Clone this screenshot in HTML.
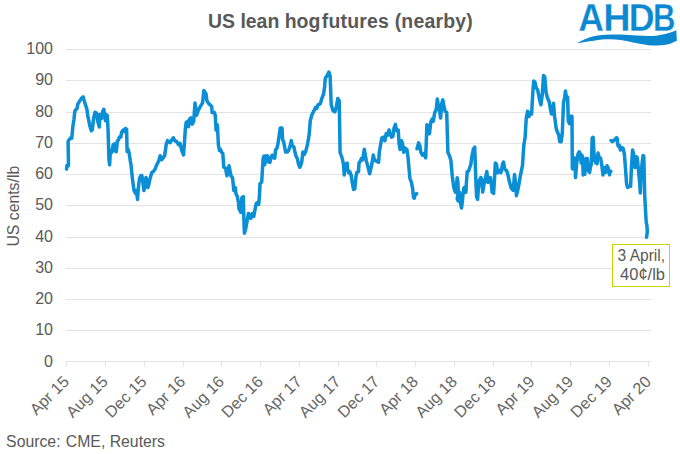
<!DOCTYPE html>
<html><head><meta charset="utf-8"><style>
html,body{margin:0;padding:0;background:#fff;width:680px;height:454px;overflow:hidden}
svg{display:block}
text{font-family:"Liberation Sans",sans-serif;fill:#595959}
.xl text{fill:#666}
</style></head><body>
<svg width="680" height="454" viewBox="0 0 680 454">
<rect width="680" height="454" fill="#fff"/>
<g font-weight="bold" font-size="19.45"><text x="208" y="28">US lean hog</text><text x="321.8" y="28" letter-spacing="0.2">futures (nearby)</text></g>
<g fill="#0b88d0" font-weight="bold" font-size="37.9">
<text transform="translate(578.3,31) scale(0.94,1)" style="fill:#0b88d0;stroke:#fff;stroke-width:0.3px">A</text>
<text transform="translate(603.3,31) scale(1.0,1)" style="fill:#0b88d0;stroke:#fff;stroke-width:0.3px">H</text>
<text transform="translate(628.8,31) scale(0.945,1)" style="fill:#0b88d0;stroke:#fff;stroke-width:0.3px">D</text>
<text transform="translate(653,31) scale(0.82,1)" style="fill:#0b88d0;stroke:#fff;stroke-width:0.3px">B</text>
<path d="M576.50,43.30 C578.75,42.28 585.08,38.62 590.00,37.20 C594.92,35.78 600.83,35.25 606.00,34.80 C611.17,34.35 615.83,34.38 621.00,34.50 C626.17,34.62 631.83,35.25 637.00,35.50 C642.17,35.75 647.33,36.25 652.00,36.00 C656.67,35.75 661.83,34.62 665.00,34.00 C668.17,33.38 669.12,32.92 671.00,32.30 C672.88,31.68 675.42,30.63 676.30,30.30 L676.90,40.70 C675.25,41.33 671.15,43.70 667.00,44.50 C662.85,45.30 657.00,45.70 652.00,45.50 C647.00,45.30 642.17,44.22 637.00,43.30 C631.83,42.38 626.17,40.67 621.00,40.00 C615.83,39.33 611.17,39.08 606.00,39.30 C600.83,39.52 594.92,40.63 590.00,41.30 C585.08,41.97 578.75,42.97 576.50,43.30 Z"/>
</g>
<line x1="66" y1="330.5" x2="651" y2="330.5" stroke="#e3e3e3" stroke-width="1"/><line x1="66" y1="299.5" x2="651" y2="299.5" stroke="#e3e3e3" stroke-width="1"/><line x1="66" y1="268.5" x2="651" y2="268.5" stroke="#e3e3e3" stroke-width="1"/><line x1="66" y1="237.5" x2="651" y2="237.5" stroke="#e3e3e3" stroke-width="1"/><line x1="66" y1="205.5" x2="651" y2="205.5" stroke="#e3e3e3" stroke-width="1"/><line x1="66" y1="174.5" x2="651" y2="174.5" stroke="#e3e3e3" stroke-width="1"/><line x1="66" y1="143.5" x2="651" y2="143.5" stroke="#e3e3e3" stroke-width="1"/><line x1="66" y1="112.5" x2="651" y2="112.5" stroke="#e3e3e3" stroke-width="1"/><line x1="66" y1="80.5" x2="651" y2="80.5" stroke="#e3e3e3" stroke-width="1"/><line x1="66" y1="49.5" x2="651" y2="49.5" stroke="#e3e3e3" stroke-width="1"/>
<line x1="66" y1="361.5" x2="651" y2="361.5" stroke="#e3e3e3" stroke-width="1"/>
<line x1="66.5" y1="361" x2="66.5" y2="367" stroke="#e3e3e3" stroke-width="1"/><line x1="105.5" y1="361" x2="105.5" y2="367" stroke="#e3e3e3" stroke-width="1"/><line x1="144.5" y1="361" x2="144.5" y2="367" stroke="#e3e3e3" stroke-width="1"/><line x1="183.5" y1="361" x2="183.5" y2="367" stroke="#e3e3e3" stroke-width="1"/><line x1="221.5" y1="361" x2="221.5" y2="367" stroke="#e3e3e3" stroke-width="1"/><line x1="260.5" y1="361" x2="260.5" y2="367" stroke="#e3e3e3" stroke-width="1"/><line x1="299.5" y1="361" x2="299.5" y2="367" stroke="#e3e3e3" stroke-width="1"/><line x1="338.5" y1="361" x2="338.5" y2="367" stroke="#e3e3e3" stroke-width="1"/><line x1="376.5" y1="361" x2="376.5" y2="367" stroke="#e3e3e3" stroke-width="1"/><line x1="415.5" y1="361" x2="415.5" y2="367" stroke="#e3e3e3" stroke-width="1"/><line x1="454.5" y1="361" x2="454.5" y2="367" stroke="#e3e3e3" stroke-width="1"/><line x1="493.5" y1="361" x2="493.5" y2="367" stroke="#e3e3e3" stroke-width="1"/><line x1="531.5" y1="361" x2="531.5" y2="367" stroke="#e3e3e3" stroke-width="1"/><line x1="570.5" y1="361" x2="570.5" y2="367" stroke="#e3e3e3" stroke-width="1"/><line x1="609.5" y1="361" x2="609.5" y2="367" stroke="#e3e3e3" stroke-width="1"/><line x1="648.5" y1="361" x2="648.5" y2="367" stroke="#e3e3e3" stroke-width="1"/>
<g font-size="16"><text x="53" y="366.9" text-anchor="end">0</text><text x="53" y="335.1" text-anchor="end">10</text><text x="53" y="304.1" text-anchor="end">20</text><text x="53" y="273.1" text-anchor="end">30</text><text x="53" y="242.1" text-anchor="end">40</text><text x="53" y="210.1" text-anchor="end">50</text><text x="53" y="179.1" text-anchor="end">60</text><text x="53" y="148.1" text-anchor="end">70</text><text x="53" y="117.1" text-anchor="end">80</text><text x="53" y="85.1" text-anchor="end">90</text><text x="53" y="54.1" text-anchor="end">100</text></g>
<text transform="translate(18.6,206.2)rotate(-90)" text-anchor="middle" font-size="15.8">US cents/lb</text>
<g font-size="16.1" class="xl"><text transform="translate(62.0,374.6)rotate(-45)" text-anchor="end" dy="0.7em">Apr 15</text><text transform="translate(100.8,374.6)rotate(-45)" text-anchor="end" dy="0.7em">Aug 15</text><text transform="translate(139.6,374.6)rotate(-45)" text-anchor="end" dy="0.7em">Dec 15</text><text transform="translate(178.4,374.6)rotate(-45)" text-anchor="end" dy="0.7em">Apr 16</text><text transform="translate(217.2,374.6)rotate(-45)" text-anchor="end" dy="0.7em">Aug 16</text><text transform="translate(256.0,374.6)rotate(-45)" text-anchor="end" dy="0.7em">Dec 16</text><text transform="translate(294.8,374.6)rotate(-45)" text-anchor="end" dy="0.7em">Apr 17</text><text transform="translate(333.6,374.6)rotate(-45)" text-anchor="end" dy="0.7em">Aug 17</text><text transform="translate(372.4,374.6)rotate(-45)" text-anchor="end" dy="0.7em">Dec 17</text><text transform="translate(411.2,374.6)rotate(-45)" text-anchor="end" dy="0.7em">Apr 18</text><text transform="translate(450.0,374.6)rotate(-45)" text-anchor="end" dy="0.7em">Aug 18</text><text transform="translate(488.8,374.6)rotate(-45)" text-anchor="end" dy="0.7em">Dec 18</text><text transform="translate(527.6,374.6)rotate(-45)" text-anchor="end" dy="0.7em">Apr 19</text><text transform="translate(566.4,374.6)rotate(-45)" text-anchor="end" dy="0.7em">Aug 19</text><text transform="translate(605.2,374.6)rotate(-45)" text-anchor="end" dy="0.7em">Dec 19</text><text transform="translate(644.0,374.6)rotate(-45)" text-anchor="end" dy="0.7em">Apr 20</text></g>
<g fill="none" stroke="#0a8fd6" stroke-width="3.5" stroke-linejoin="round" stroke-linecap="round">
<path d="M66.6,169.0 L67.0,165.2 L68.5,165.7 L68.1,141.5 L69.0,139.9 L70.7,137.7 L71.8,138.2 L72.3,132.7 L72.9,126.1 L73.9,119.8 L74.9,110.8 L76.9,108.8 L77.9,103.9 L79.8,100.9 L81.8,97.9 L83.2,96.9 L84.8,102.9 L86.8,108.8 L87.8,115.8 L89.8,125.7 L91.3,130.7 L92.3,129.7 L93.7,117.8 L95.0,112.3 L96.5,113.1 L97.8,121.6 L99.3,127.0 L99.9,114.6 L101.5,118.5 L102.7,111.6 L103.8,109.3 L104.6,115.4 L105.5,120.8 L106.1,114.6 L107.3,115.4 L108.1,130.8 L108.9,158.6 L109.6,164.8 L110.4,150.9 L111.7,152.4 L113.2,144.7 L114.3,143.9 L115.0,150.9 L116.3,151.6 L117.4,140.9 L118.4,140.1 L119.4,137.0 L120.9,137.0 L121.5,132.4 L123.1,130.1 L124.3,131.6 L125.5,128.5 L126.6,129.3 L127.1,151.6 L128.1,149.3 L129.2,153.2 L130.3,161.0 L131.0,164.7 L132.4,178.6 L134.0,190.5 L135.6,193.5 L136.5,190.5 L137.5,199.4 L138.3,188.5 L139.5,178.6 L140.9,175.6 L141.9,175.6 L142.9,182.5 L143.9,190.5 L144.9,186.5 L145.9,177.6 L146.9,180.6 L147.9,187.5 L148.8,184.5 L149.8,179.6 L151.8,172.6 L153.4,171.6 L154.8,169.6 L156.8,164.7 L158.8,160.7 L160.2,155.8 L161.7,159.7 L163.3,157.7 L164.7,155.5 L166.3,144.0 L167.5,140.5 L170.0,142.7 L171.9,139.8 L173.3,137.8 L174.9,140.8 L176.9,141.7 L178.5,144.7 L180.0,143.4 L181.8,150.5 L183.5,154.9 L184.4,143.4 L185.3,129.3 L186.2,122.3 L187.4,121.4 L188.5,126.7 L189.7,118.8 L190.9,117.9 L192.3,124.1 L193.7,121.4 L195.0,102.9 L195.9,110.0 L196.7,115.2 L198.0,110.8 L199.4,108.2 L200.8,105.6 L202.6,102.9 L203.8,90.6 L205.0,92.3 L206.1,94.1 L206.8,100.3 L208.2,102.9 L210.0,104.7 L211.7,106.4 L212.1,112.6 L214.4,112.6 L215.2,115.2 L216.1,130.2 L217.4,124.9 L218.4,145.2 L219.6,150.5 L220.4,149.4 L221.8,152.4 L222.8,153.4 L223.8,167.3 L225.8,168.3 L226.0,170.8 L227.0,175.8 L228.0,172.8 L229.0,165.8 L230.0,170.8 L231.0,175.8 L232.5,177.7 L233.3,184.7 L233.9,190.6 L235.3,187.7 L235.9,193.6 L237.3,196.6 L238.5,202.5 L238.9,208.5 L239.9,210.5 L240.9,212.5 L241.9,197.6 L243.3,196.6 L243.8,216.4 L244.4,233.3 L245.8,228.3 L247.2,220.4 L248.4,213.5 L249.8,214.4 L250.8,218.4 L252.4,213.5 L253.8,216.4 L255.2,208.5 L256.3,203.5 L257.7,202.5 L258.7,204.5 L259.5,194.3 L260.0,183.8 L261.7,182.0 L262.6,167.0 L263.0,160.0 L263.8,156.4 L264.7,164.8 L265.6,155.8 L266.6,161.8 L267.5,155.8 L268.7,161.8 L269.9,162.4 L271.1,157.0 L272.3,155.2 L273.5,157.6 L274.7,158.2 L275.6,149.7 L276.8,148.5 L277.8,144.8 L279.0,137.0 L280.2,127.9 L282.0,127.9 L282.6,139.4 L283.8,142.4 L284.8,147.9 L285.6,152.1 L287.5,152.1 L288.7,150.3 L290.1,146.1 L291.3,140.6 L292.3,146.1 L293.8,146.7 L294.7,150.9 L295.9,155.8 L297.4,158.8 L298.4,163.6 L299.8,167.3 L300.3,166.6 L301.8,161.8 L302.8,152.1 L304.2,154.5 L305.9,150.9 L307.6,143.6 L309.1,135.1 L310.3,120.6 L312.0,114.5 L313.9,110.9 L315.6,107.2 L316.8,108.5 L318.0,104.8 L320.4,103.6 L321.7,98.8 L323.6,93.9 L324.6,86.7 L325.3,78.2 L327.0,75.8 L328.9,72.1 L330.1,75.8 L331.2,104.5 L332.9,110.6 L334.8,111.8 L336.1,108.2 L337.8,98.5 L339.2,100.9 L340.1,152.5 L342.3,158.5 L343.6,165.1 L344.2,175.0 L345.6,164.4 L347.2,163.1 L347.5,168.4 L348.9,173.0 L349.8,171.7 L351.1,175.0 L352.2,182.3 L353.5,189.5 L354.8,188.9 L355.9,177.0 L356.8,172.4 L358.5,171.7 L359.0,163.1 L360.4,161.1 L361.4,158.5 L362.7,159.8 L364.3,149.2 L365.4,155.9 L366.4,161.1 L367.8,166.4 L369.6,173.7 L370.7,169.4 L371.9,163.7 L373.3,155.1 L374.3,159.4 L375.7,160.8 L377.2,161.6 L378.6,162.3 L379.3,152.2 L380.5,145.1 L381.9,137.9 L383.3,137.2 L384.8,140.8 L386.2,133.6 L387.6,135.1 L389.1,130.0 L390.1,133.6 L391.5,137.2 L392.9,136.5 L393.9,128.6 L395.4,124.3 L396.5,130.8 L398.2,130.0 L399.1,143.7 L400.1,149.4 L401.5,140.8 L402.5,143.7 L403.7,152.2 L405.0,148.0 L406.9,149.6 L408.1,158.1 L408.9,167.4 L409.9,178.2 L411.5,182.8 L412.7,189.0 L413.5,197.4 L414.3,198.2 L415.0,195.1 L416.6,193.6"/>
<path d="M417.0,148.7 L418.6,142.9 L420.0,146.2 L420.8,152.0 L422.4,155.3 L424.1,153.6 L425.7,157.8 L426.9,124.7 L428.2,126.4 L429.5,133.8 L430.7,122.2 L432.4,118.9 L433.2,121.4 L434.8,112.3 L436.2,109.8 L437.3,99.1 L438.5,106.5 L439.5,109.8 L440.6,118.1 L441.8,103.2 L442.8,99.9 L444.0,106.5 L445.2,111.5 L446.7,112.3 L447.9,152.5 L449.6,156.0 L450.9,160.6 L451.6,168.5 L452.3,176.4 L453.2,183.0 L454.0,188.3 L455.3,192.3 L456.2,189.6 L457.2,177.7 L458.0,183.0 L458.2,192.3 L457.2,198.9 L458.2,200.9 L459.5,192.3 L460.2,201.5 L461.5,208.1 L462.2,202.8 L463.2,192.3 L463.8,188.3 L464.8,187.0 L465.9,192.3 L466.4,183.0 L467.2,171.8 L468.5,171.1 L469.4,168.5 L470.8,164.5 L472.1,155.3 L473.4,149.0 L474.7,147.2 L475.2,160.6 L475.9,182.4 L476.6,196.9 L477.6,199.3 L478.3,189.7 L479.5,180.0 L480.8,177.5 L482.0,180.0 L482.7,192.1 L483.9,184.8 L485.6,177.5 L486.8,171.5 L488.0,182.4 L489.2,180.0 L490.4,177.5 L491.2,182.4 L492.1,192.1 L493.6,193.3 L494.6,177.5 L495.3,163.0 L496.5,164.2 L497.7,172.7 L498.9,170.3 L500.9,172.7 L502.6,164.2 L503.5,162.0 L504.8,169.3 L506.6,170.6 L507.9,174.6 L509.3,181.2 L511.1,187.8 L513.2,190.4 L514.5,174.6 L515.9,185.2 L516.4,195.7 L518.0,189.1 L519.0,183.8 L520.6,174.6 L522.5,165.3 L523.8,145.5 L525.1,137.6 L525.9,124.0 L526.3,117.9 L527.6,111.3 L529.0,116.5 L530.3,112.6 L531.6,113.9 L532.9,91.4 L533.7,80.9 L535.0,82.2 L536.1,87.5 L537.7,90.1 L539.5,99.4 L540.9,104.7 L542.2,95.4 L543.5,75.6 L544.8,76.9 L546.1,92.8 L547.5,98.0 L549.3,102.0 L550.1,107.3 L551.4,113.9 L552.8,113.9 L553.5,103.3 L554.6,116.5 L556.2,128.5 L557.4,132.1 L558.6,134.5 L559.8,141.8 L561.1,141.8 L562.3,133.3 L563.5,103.0 L564.7,97.0 L565.4,90.9 L566.6,98.2 L567.6,97.0 L568.3,121.2 L569.5,123.6 L570.8,116.3 L572.0,116.3 L572.2,150.0 L572.3,168.3 L572.8,169.0 L574.0,157.7 L575.0,158.4 L575.5,177.6 L576.6,164.3 L577.9,154.4 L579.2,151.8 L580.3,153.8 L581.2,163.0 L581.6,155.1 L582.5,156.4 L583.2,174.9 L584.3,169.6 L584.8,174.3 L585.6,160.4 L586.1,158.4 L587.4,158.4 L588.5,171.0 L589.6,172.3 L590.5,167.0 L591.4,163.7 L592.2,137.9 L593.1,137.3 L593.8,149.8 L594.4,160.4 L595.1,156.4 L595.8,163.0 L597.1,163.7 L598.0,153.1 L599.3,157.7 L600.6,158.4 L601.7,164.3 L603.0,174.9 L604.3,167.6 L605.7,172.3 L607.0,165.7 L608.3,168.3 L609.6,174.9 L609.7,173.0 L610.8,171.3"/>
<path d="M611.0,140.5 L612.3,141.6 L613.8,140.5 L615.2,139.4 L616.5,137.7 L617.4,138.8 L617.6,143.8 L618.2,146.0 L619.3,145.4 L620.4,150.0 L621.1,148.8 L622.2,147.7 L623.3,148.8 L624.4,154.3 L625.5,168.6 L626.6,184.1 L627.7,187.4 L629.3,186.3 L630.6,186.3 L631.5,166.4 L632.6,149.9 L633.7,155.4 L635.0,167.5 L635.9,156.5 L637.2,157.6 L638.1,166.4 L639.4,179.6 L640.3,192.9 L640.9,177.4 L642.0,164.2 L643.1,155.4 L643.8,156.5 L644.7,195.1 L645.5,210.0 L646.2,222.0 L647.0,226.0 L647.3,232.0 L646.5,237.2"/>
</g>
<rect x="612.5" y="244.5" width="57" height="42" fill="#fff" stroke="#c8d400" stroke-width="1"/>
<text transform="translate(665,261) scale(0.94,1)" text-anchor="end" font-size="16.5">3 April,</text>
<text x="665" y="279.5" text-anchor="end" font-size="16.5">40¢/lb</text>
<text x="6.1" y="447" font-size="15.8">Source:</text><text x="65.8" y="447" font-size="15.8">CME, Reuters</text>
</svg>
</body></html>
